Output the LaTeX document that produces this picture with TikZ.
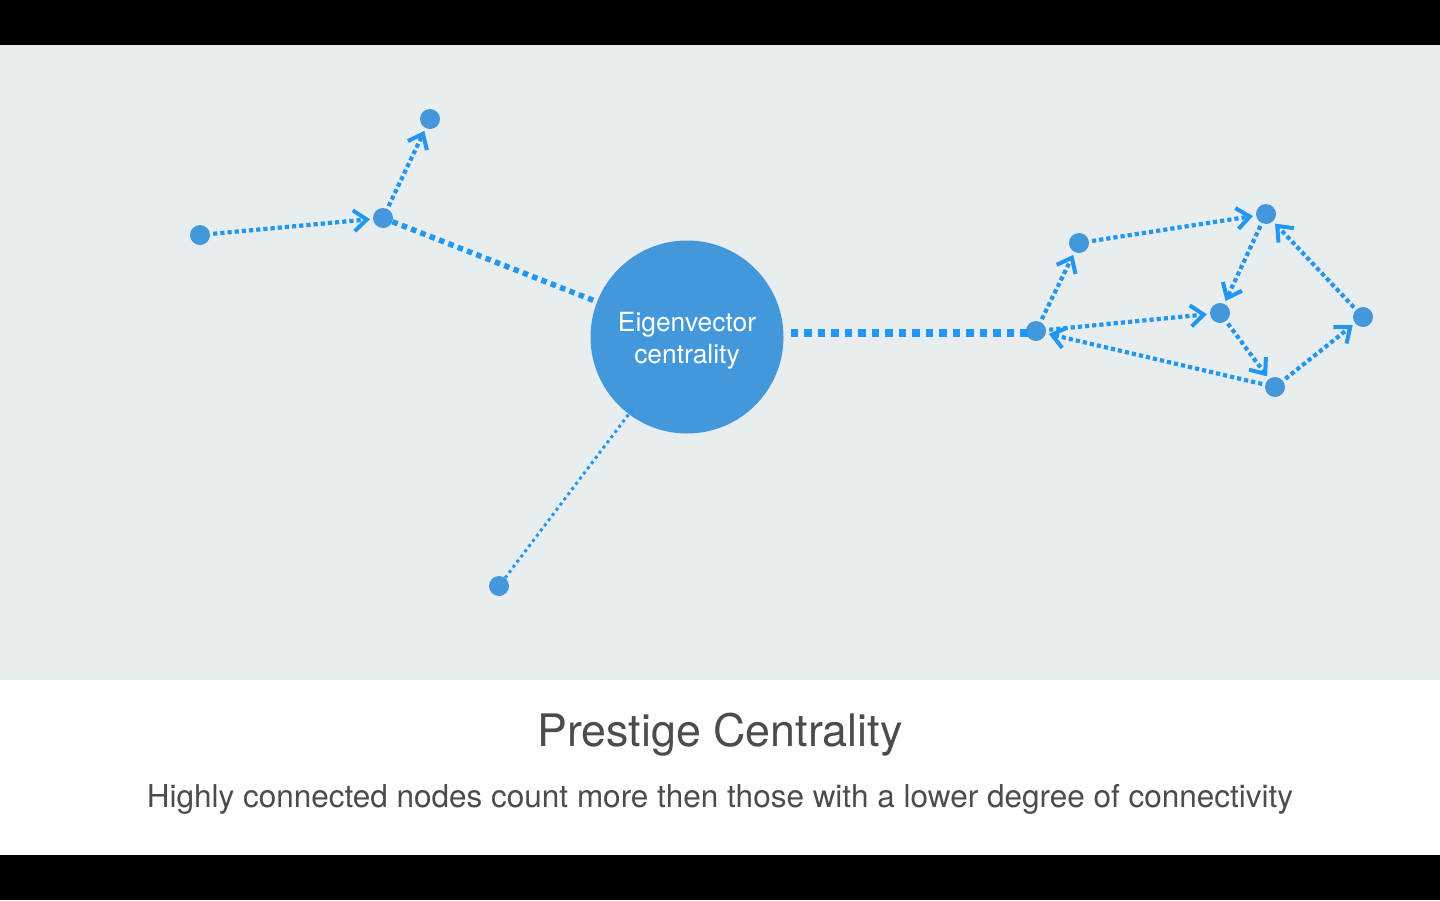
\documentclass[tikz,border=0pt]{standalone}
\usepackage{fontspec}
\setmainfont{TeX Gyre Heros}
\usetikzlibrary{arrows.meta}
\definecolor{panel}{RGB}{232,237,239}
\definecolor{nodeblue}{RGB}{67,152,220}
\definecolor{edgeblue}{RGB}{33,150,243}
\definecolor{textgray}{RGB}{74,76,80}
\begin{document}
\begin{tikzpicture}[x=1pt,y=-1pt,
    vert/.style={circle,fill=nodeblue,minimum size=20pt,inner sep=0pt},
    hub/.style={circle,fill=nodeblue,minimum size=193pt,inner sep=0pt},
    hubtext/.style={text=white,align=center,
      font=\fontsize{26.4}{31.5}\selectfont},
    link/.style={edgeblue,line width=4.2pt,dash pattern=on 4.2pt off 3pt,
      shorten >=3pt,shorten <=3pt},
    arr/.style={link,-{Straight Barb[length=13pt,width=21pt,line width=4pt]}}]
    %% frame : black bands, grey panel, white caption strip
    \fill[black] (0,0) rectangle (1440,900);%
    \fill[white] (0,45) rectangle (1440,855);%
    \fill[panel] (0,45) rectangle (1440,680);%

    %% the hub
    \node[hub] (hub) at (687,337) {};%
    \node[hubtext] (hublabel) at ([yshift=-3.5pt]hub.center)
    {Eigenvector\\centrality};%

    %% left branch
    \node[vert] (a) at (200,235) {};%
    \node[vert] (b) at (383,218) {};%
    \node[vert] (c) at (430,119) {};%
    \node[vert] (d) at (499,586) {};%

    %% right cluster
    \node[vert] (e) at (1036,331) {};%
    \node[vert] (f) at (1079,243) {};%
    \node[vert] (g) at (1266,214) {};%
    \node[vert] (h) at (1220,313) {};%
    \node[vert] (i) at (1363,317) {};%
    \node[vert] (j) at (1275,387) {};%

    \draw[arr] (a) -- (b);%
    \draw[arr] (b) -- (c);%
    \draw[link,line width=5.5pt,dash pattern=on 5.5pt off 4.5pt,shorten <=0pt,
      shorten >=0pt] (b) -- (hub);%
    \draw[link,line width=3pt,dash pattern=on 3pt off 3.5pt,shorten <=0pt,
      shorten >=-6pt] (d) -- (hub);%
    \draw[link,line width=7.5pt,dash pattern=on 7.5pt off 6pt,shorten <=7pt,
      shorten >=-6pt] (hub.east |- 0,333) -- (e.west |- 0,333);%

    \foreach \s/\t in {e/f, f/g, g/h, e/h, h/j, j/i, i/g, j/e}
    \draw[arr] (\s) -- (\t);%

    %% caption
    \node[textgray,anchor=base,font=\fontsize{44.8}{50}\selectfont] (title)
    at (720,746) {Prestige Centrality};%
    \node[textgray,anchor=base,font=\fontsize{31.5}{36}\selectfont] (sub)
    at (720,807) {Highly connected nodes count more then those with a lower
      degree of connectivity};%
  \end{tikzpicture}
\end{document}
